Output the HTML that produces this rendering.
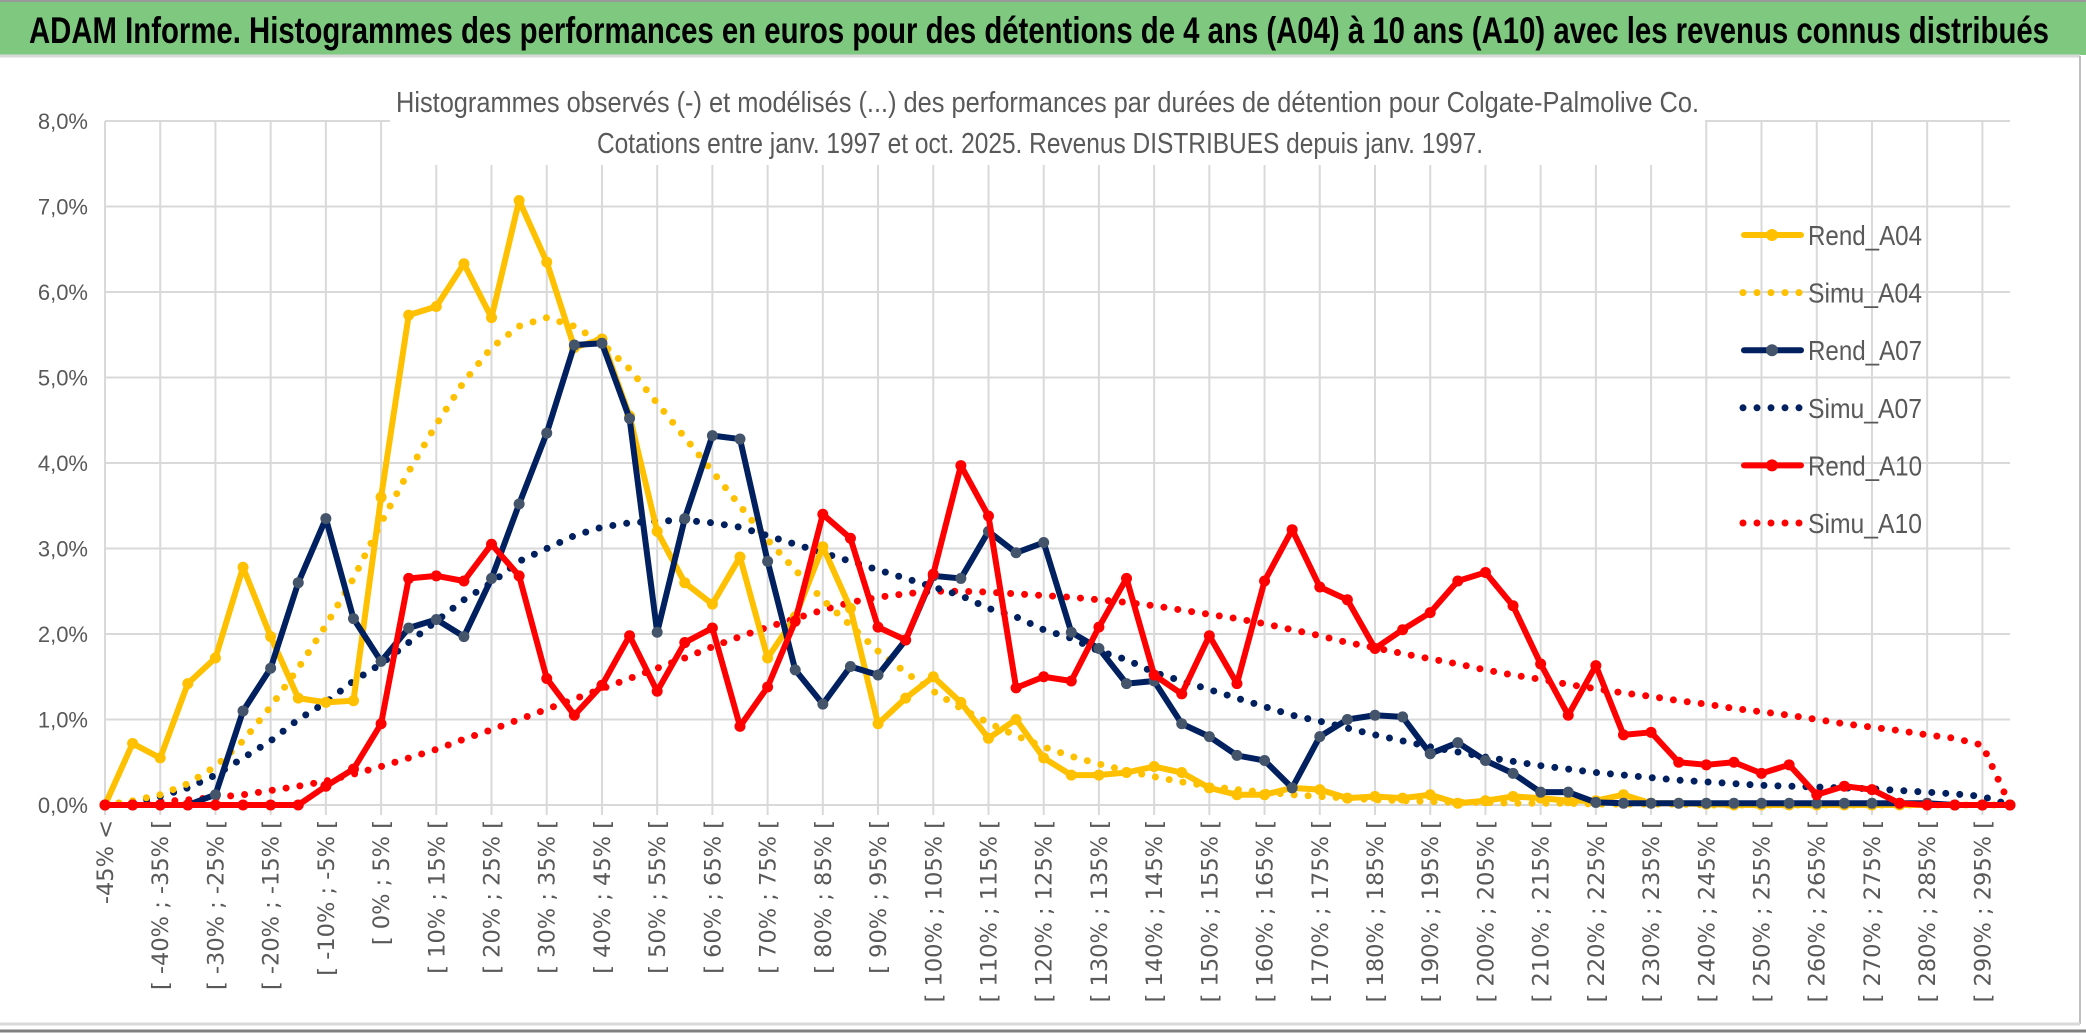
<!DOCTYPE html>
<html><head><meta charset="utf-8">
<style>
html,body{margin:0;padding:0;background:#fff;}
svg{display:block;}
</style></head>
<body>
<svg id="chart" width="2086" height="1033" viewBox="0 0 2086 1033" xmlns="http://www.w3.org/2000/svg">
  <rect x="0" y="0" width="2086" height="1033" fill="#ffffff"/>
  <rect x="0" y="0" width="2086" height="55" fill="#7ec97f"/>
  <line x1="0" y1="1" x2="2086" y2="1" stroke="#999" stroke-width="2"/>
  <line x1="0" y1="56" x2="2080" y2="56" stroke="#d9d9d9" stroke-width="3"/>
  <line x1="2080" y1="56" x2="2080" y2="1024" stroke="#bfbfbf" stroke-width="2"/>
  <line x1="0" y1="1024" x2="2080" y2="1024" stroke="#d9d9d9" stroke-width="3"/>
  <line x1="0" y1="1031" x2="2086" y2="1031" stroke="#808080" stroke-width="3"/>
  <text x="29" y="43" font-family="Liberation Sans, sans-serif" font-weight="bold" font-size="37" fill="#000" textLength="2020" lengthAdjust="spacingAndGlyphs">ADAM Informe. Histogrammes des performances en euros pour des détentions de 4 ans (A04) à 10 ans (A10) avec les revenus connus distribués</text>
  <g id="grid"></g>
  <rect x="390" y="70" width="1315" height="95" fill="#ffffff"/>
  <text x="396" y="112" font-family="Liberation Sans, sans-serif" font-size="29" fill="#595959" textLength="1303" lengthAdjust="spacingAndGlyphs">Histogrammes observés (-) et modélisés (...) des performances par durées de détention pour Colgate-Palmolive Co.</text>
  <text x="597" y="153" font-family="Liberation Sans, sans-serif" font-size="29" fill="#595959" textLength="886" lengthAdjust="spacingAndGlyphs">Cotations entre janv. 1997 et oct. 2025. Revenus DISTRIBUES depuis janv. 1997.</text>
  <g id="yaxis"></g>
  <g id="xaxis"></g>
  <g id="series"></g>
  <g id="legend"></g>
</svg>
<script>
const yTicks = [0,1,2,3,4,5,6,7,8];
const rendA04 = [0,0.72,0.55,1.42,1.72,2.78,1.97,1.25,1.2,1.22,3.6,5.73,5.83,6.33,5.7,7.07,6.35,5.35,5.45,4.55,3.2,2.6,2.35,2.9,1.72,2.2,3.02,2.3,0.95,1.25,1.5,1.2,0.78,1.0,0.55,0.35,0.35,0.38,0.45,0.38,0.2,0.12,0.12,0.2,0.18,0.08,0.1,0.08,0.12,0.02,0.05,0.1,0.08,0.05,0.05,0.12,0.02,0.02,0.01,0,0,0,0,0,0,0,0,0,0,0];
const simuA04 = [0,0.05,0.12,0.25,0.45,0.75,1.15,1.6,2.1,2.65,3.3,3.9,4.45,4.95,5.35,5.6,5.7,5.6,5.4,5.1,4.7,4.3,3.9,3.5,3.1,2.75,2.4,2.1,1.8,1.55,1.33,1.13,0.96,0.81,0.68,0.57,0.48,0.4,0.33,0.27,0.22,0.18,0.15,0.12,0.1,0.08,0.06,0.05,0.04,0.03,0.03,0.02,0.02,0.02,0.01,0.01,0.01,0.01,0,0,0,0,0,0,0,0,0,0,0,0];
const rendA07 = [0,0,0,0,0.12,1.1,1.6,2.6,3.35,2.18,1.68,2.07,2.17,1.97,2.65,3.52,4.35,5.38,5.4,4.52,2.02,3.35,4.32,4.28,2.85,1.58,1.18,1.62,1.52,1.93,2.68,2.65,3.2,2.95,3.07,2.02,1.83,1.42,1.45,0.95,0.8,0.58,0.52,0.2,0.8,1.0,1.05,1.03,0.6,0.73,0.52,0.37,0.15,0.15,0.03,0.02,0.02,0.02,0.02,0.02,0.02,0.02,0.02,0.02,0.02,0.02,0.02,0,0,0];
const simuA07 = [0,0.03,0.1,0.2,0.35,0.55,0.75,1.0,1.2,1.45,1.65,1.9,2.15,2.4,2.6,2.85,3.0,3.15,3.25,3.3,3.32,3.33,3.3,3.25,3.15,3.05,2.95,2.85,2.75,2.65,2.55,2.45,2.3,2.2,2.05,1.95,1.8,1.7,1.55,1.45,1.35,1.25,1.15,1.05,0.98,0.9,0.82,0.75,0.68,0.62,0.56,0.51,0.46,0.42,0.38,0.35,0.32,0.29,0.27,0.25,0.23,0.22,0.21,0.2,0.19,0.17,0.15,0.13,0.1,0.0];
const rendA10 = [0,0,0,0,0,0,0,0,0.22,0.42,0.95,2.65,2.68,2.62,3.05,2.68,1.48,1.05,1.4,1.98,1.33,1.9,2.07,0.92,1.38,2.15,3.4,3.12,2.08,1.93,2.7,3.97,3.38,1.37,1.5,1.45,2.08,2.65,1.52,1.3,1.98,1.42,2.62,3.22,2.55,2.4,1.83,2.05,2.25,2.62,2.72,2.33,1.65,1.05,1.63,0.82,0.85,0.5,0.47,0.5,0.37,0.47,0.12,0.22,0.18,0.02,0,0,0,0];
const simuA10 = [0,0.02,0.04,0.06,0.09,0.12,0.17,0.22,0.28,0.36,0.45,0.55,0.65,0.77,0.88,1.0,1.12,1.24,1.36,1.48,1.6,1.72,1.85,1.97,2.08,2.18,2.28,2.37,2.43,2.47,2.5,2.5,2.49,2.47,2.45,2.43,2.4,2.37,2.33,2.28,2.23,2.18,2.12,2.05,1.98,1.9,1.84,1.77,1.71,1.65,1.58,1.52,1.47,1.41,1.36,1.31,1.27,1.22,1.18,1.13,1.09,1.05,1.0,0.95,0.91,0.87,0.82,0.78,0.7,0.0];
const categories = ["-45% <"];
for (let a = -45; a < 300; a += 5) categories.push("[ " + a + "% ; " + (a+5) + "% [");

const NS = "http://www.w3.org/2000/svg";
const X0 = 105, X1 = 2010, Y0 = 805, Y1 = 121;
const n = 70;
function xs(i){ return X0 + i*(X1-X0)/(n-1); }
function ys(v){ return Y0 - v*(Y0-Y1)/8; }
function mk(tag, attrs, parent){ const e=document.createElementNS(NS,tag); for(const k in attrs) e.setAttribute(k,attrs[k]); parent.appendChild(e); return e; }

const grid = document.getElementById('grid');
yTicks.forEach(t=>{
  const l = mk('line',{x1:X0,x2:X1,y1:ys(t),y2:ys(t),stroke:'#d9d9d9','stroke-width':2},grid);
  
  
});
for(let i=0;i<n;i+=2){
  const l = mk('line',{x1:xs(i),x2:xs(i),y1:Y1,y2:Y0+10,stroke:'#d9d9d9','stroke-width':2},grid);
  
  
}
const yax = document.getElementById('yaxis');
yTicks.forEach(t=>{
  const tx = mk('text',{x:88,y:ys(t)+8,'text-anchor':'end','font-family':'Liberation Sans, sans-serif','font-size':22,fill:'#595959'},yax);
  tx.textContent = t.toFixed(1).replace('.',',')+'%';
  
  
});
const xax = document.getElementById('xaxis');
for(let i=0;i<n;i+=2){
  const x = xs(i)+8, y = 820;
  const tx = mk('text',{x:x,y:y,'text-anchor':'end',transform:`rotate(-90 ${x} ${y})`,'font-family':'DejaVu Sans, sans-serif','font-size':22.5,fill:'#595959'},xax);
  tx.textContent = categories[i];
  
  
}
const ser = document.getElementById('series');
function dotted(data,color,name){
  const pts = data.map((v,i)=>xs(i)+','+ys(v)).join(' ');
  const p = mk('polyline',{points:pts,fill:'none',stroke:color,'stroke-width':7,'stroke-linecap':'round','stroke-dasharray':'0 14'},ser);
  
  
}
function solid(data,color,mfill,name){
  const g = mk('g',{},ser);
  
  
  const pts = data.map((v,i)=>xs(i)+','+ys(v)).join(' ');
  mk('polyline',{points:pts,fill:'none',stroke:color,'stroke-width':6,'stroke-linejoin':'round'},g);
  data.forEach((v,i)=>{
    const c = mk('circle',{cx:xs(i),cy:ys(v),r:5.5,fill:mfill},g);
    
    
  });
}
dotted(simuA10,'#ff0000','simu-a10-line');
dotted(simuA07,'#002060','simu-a07-line');
dotted(simuA04,'#ffc000','simu-a04-line');
solid(rendA04,'#ffc000','#ffc000','rend-a04-line');
solid(rendA07,'#002060','#44546a','rend-a07-line');
solid(rendA10,'#ff0000','#ff0000','rend-a10-line');

const leg = document.getElementById('legend');
const legItems = [["Rend_A04","#ffc000","#ffc000",false],["Simu_A04","#ffc000",null,true],["Rend_A07","#002060","#44546a",false],["Simu_A07","#002060",null,true],["Rend_A10","#ff0000","#ff0000",false],["Simu_A10","#ff0000",null,true]];
legItems.forEach((it,k)=>{
  const y = 235 + k*57.6;
  const g = mk('g',{},leg);
  
  
  if(it[3]){
    mk('line',{x1:1743,x2:1800,y1:y,y2:y,stroke:it[1],'stroke-width':7,'stroke-linecap':'round','stroke-dasharray':'0 14'},g);
  } else {
    mk('line',{x1:1744,x2:1801,y1:y,y2:y,stroke:it[1],'stroke-width':6,'stroke-linecap':'round'},g);
    mk('circle',{cx:1772,cy:y,r:6,fill:it[2]},g);
  }
  const tx = mk('text',{x:1808,y:y+10,'font-family':'Liberation Sans, sans-serif','font-size':28,fill:'#595959',textLength:114,lengthAdjust:'spacingAndGlyphs'},g);
  tx.textContent = it[0];
});
</script>
</body></html>
